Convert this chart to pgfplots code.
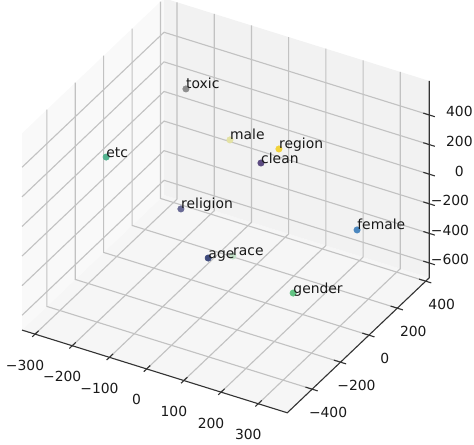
\documentclass[border=0pt]{standalone}
\usepackage{pgfplots}
\pgfplotsset{compat=1.18}
\usepackage{fontspec}
\setmainfont{DejaVu Sans}
\definecolor{paneX}{gray}{0.975}
\definecolor{paneY}{gray}{0.95}
\definecolor{paneZ}{gray}{0.9625}
\definecolor{gridc}{HTML}{C2C2C2}
\definecolor{axc}{HTML}{333333}
\definecolor{cToxic}{HTML}{8E8E8E}
\definecolor{cMale}{HTML}{E3E2A4}
\definecolor{cRegion}{HTML}{F2D33B}
\definecolor{cClean}{HTML}{5B4A80}
\definecolor{cEtc}{HTML}{52B38F}
\definecolor{cReligion}{HTML}{6A6B96}
\definecolor{cFemale}{HTML}{4B87BF}
\definecolor{cAge}{HTML}{3F4B7D}
\definecolor{cRace}{HTML}{C3E2C8}
\definecolor{cGender}{HTML}{62C383}
\pgfplotsset{pt/.style={only marks, mark=*, mark size=2.3pt, color=#1,
  point meta=explicit symbolic, nodes near coords, nodes near coords align={anchor=base west},
  every node near coord/.append style={inner sep=0pt, text=black!90, font=\fontsize{10}{12}\selectfont}}}
\begin{document}
\begin{tikzpicture}[font=\fontsize{10}{12}\selectfont]
\begin{axis}[
  hide axis, clip=false, disabledatascaling,
  x={(0.26784pt,-0.08352pt)}, y={(0.10224pt,0.0972pt)}, z={(0pt,0.10656pt)},
  xmin=-335, xmax=378, ymin=-575, ymax=425, zmin=-700, zmax=630,
]
\coordinate (O) at (axis cs:0,0,0);
% panes
\fill[paneZ] (axis cs:-335,-575,-700) -- (axis cs:378,-575,-700) -- (axis cs:378,425,-700) -- (axis cs:-335,425,-700) -- cycle;
\fill[paneX] (axis cs:-335,-575,-700) -- (axis cs:-335,425,-700) -- (axis cs:-335,425,630) -- (axis cs:-335,-575,630) -- cycle;
\fill[paneY] (axis cs:-335,425,-700) -- (axis cs:378,425,-700) -- (axis cs:378,425,630) -- (axis cs:-335,425,630) -- cycle;
% grid
\pgfplotsinvokeforeach{-300,-200,-100,0,100,200,300}{\draw[gridc,line width=0.8pt] (axis cs:#1,-575,-700) -- (axis cs:#1,425,-700) -- (axis cs:#1,425,630);}
\pgfplotsinvokeforeach{-400,-200,0,200,400}{\draw[gridc,line width=0.8pt] (axis cs:378,#1,-700) -- (axis cs:-335,#1,-700) -- (axis cs:-335,#1,630);}
\pgfplotsinvokeforeach{-600,-400,-200,0,200,400}{\draw[gridc,line width=0.8pt] (axis cs:-335,-575,#1) -- (axis cs:-335,425,#1) -- (axis cs:378,425,#1);}
% axis lines
\draw[axc,line width=0.8pt] (axis cs:-335,-575,-700) -- (axis cs:378,-575,-700) -- (axis cs:378,425,-700) -- (axis cs:378,425,630);
% ticks
\pgfplotsinvokeforeach{-300,-200,-100,0,100,200,300}{\draw[axc,line width=0.8pt] (axis cs:#1,-595,-700) -- (axis cs:#1,-550,-700);}
\pgfplotsinvokeforeach{-400,-200,0,200,400}{\draw[axc,line width=0.8pt] (axis cs:360,#1,-700) -- (axis cs:393,#1,-700);}
\pgfplotsinvokeforeach{-600,-400,-200,0,200,400}{\draw[axc,line width=0.8pt] (axis cs:362,425,#1) -- (axis cs:393,425,#1);}
% tick labels
\begin{scope}[every node/.style={inner sep=0pt, anchor=center, text=black!90}]
\node[xshift=-7.2pt,yshift=-22.3pt] at (axis cs:-300,-575,-700) {−300};
\node[xshift=-7.2pt,yshift=-22.3pt] at (axis cs:-200,-575,-700) {−200};
\node[xshift=-7.2pt,yshift=-22.3pt] at (axis cs:-100,-575,-700) {−100};
\node[xshift=-7.2pt,yshift=-22.3pt] at (axis cs:0,-575,-700) {0};
\node[xshift=-7.2pt,yshift=-22.3pt] at (axis cs:100,-575,-700) {100};
\node[xshift=-7.2pt,yshift=-22.3pt] at (axis cs:200,-575,-700) {200};
\node[xshift=-7.2pt,yshift=-22.3pt] at (axis cs:300,-575,-700) {300};
\node[xshift=11.5pt,yshift=-16.9pt] at (axis cs:378,-400,-700) {−400};
\node[xshift=11.5pt,yshift=-16.9pt] at (axis cs:378,-200,-700) {−200};
\node[xshift=11.5pt,yshift=-16.9pt] at (axis cs:378,0,-700) {0};
\node[xshift=11.5pt,yshift=-16.9pt] at (axis cs:378,200,-700) {200};
\node[xshift=11.5pt,yshift=-16.9pt] at (axis cs:378,400,-700) {400};
\node[xshift=14.9pt,yshift=2.2pt] at (axis cs:378,425,-600) {−600};
\node[xshift=14.9pt,yshift=2.2pt] at (axis cs:378,425,-400) {−400};
\node[xshift=14.9pt,yshift=2.2pt] at (axis cs:378,425,-200) {−200};
\node[xshift=21.7pt,yshift=2.2pt] at (axis cs:378,425,0) {0};
\node[xshift=21.7pt,yshift=2.2pt] at (axis cs:378,425,200) {200};
\node[xshift=21.7pt,yshift=2.2pt] at (axis cs:378,425,400) {400};
\end{scope}
% data points
\addplot3[pt=cToxic] coordinates {(-170,147,400) [toxic]};
\addplot3[pt=cMale] coordinates {(-130,352,-100) [male]};
\addplot3[pt=cRegion] coordinates {(83,139,200) [region]};
\addplot3[pt=cClean] coordinates {(45,112,100) [clean]};
\addplot3[pt=cEtc] coordinates {(-281,-124,100) [etc]};
\addplot3[pt=cReligion] coordinates {(-161,88,-350) [religion]};
\addplot3[pt=cFemale] coordinates {(256,236,-300) [female]};
\addplot3[pt=cRace] coordinates {(-3,40,-500) [race]};
\addplot3[pt=cAge] coordinates {(-17,-97,-400) [age]};
\addplot3[pt=cGender] coordinates {(198,-62,-500) [gender]};
\end{axis}
\pgfresetboundingbox
\path (O) ++(-164.38pt,135.14pt) rectangle ++(341.28pt,-319.68pt);
\end{tikzpicture}
\end{document}
